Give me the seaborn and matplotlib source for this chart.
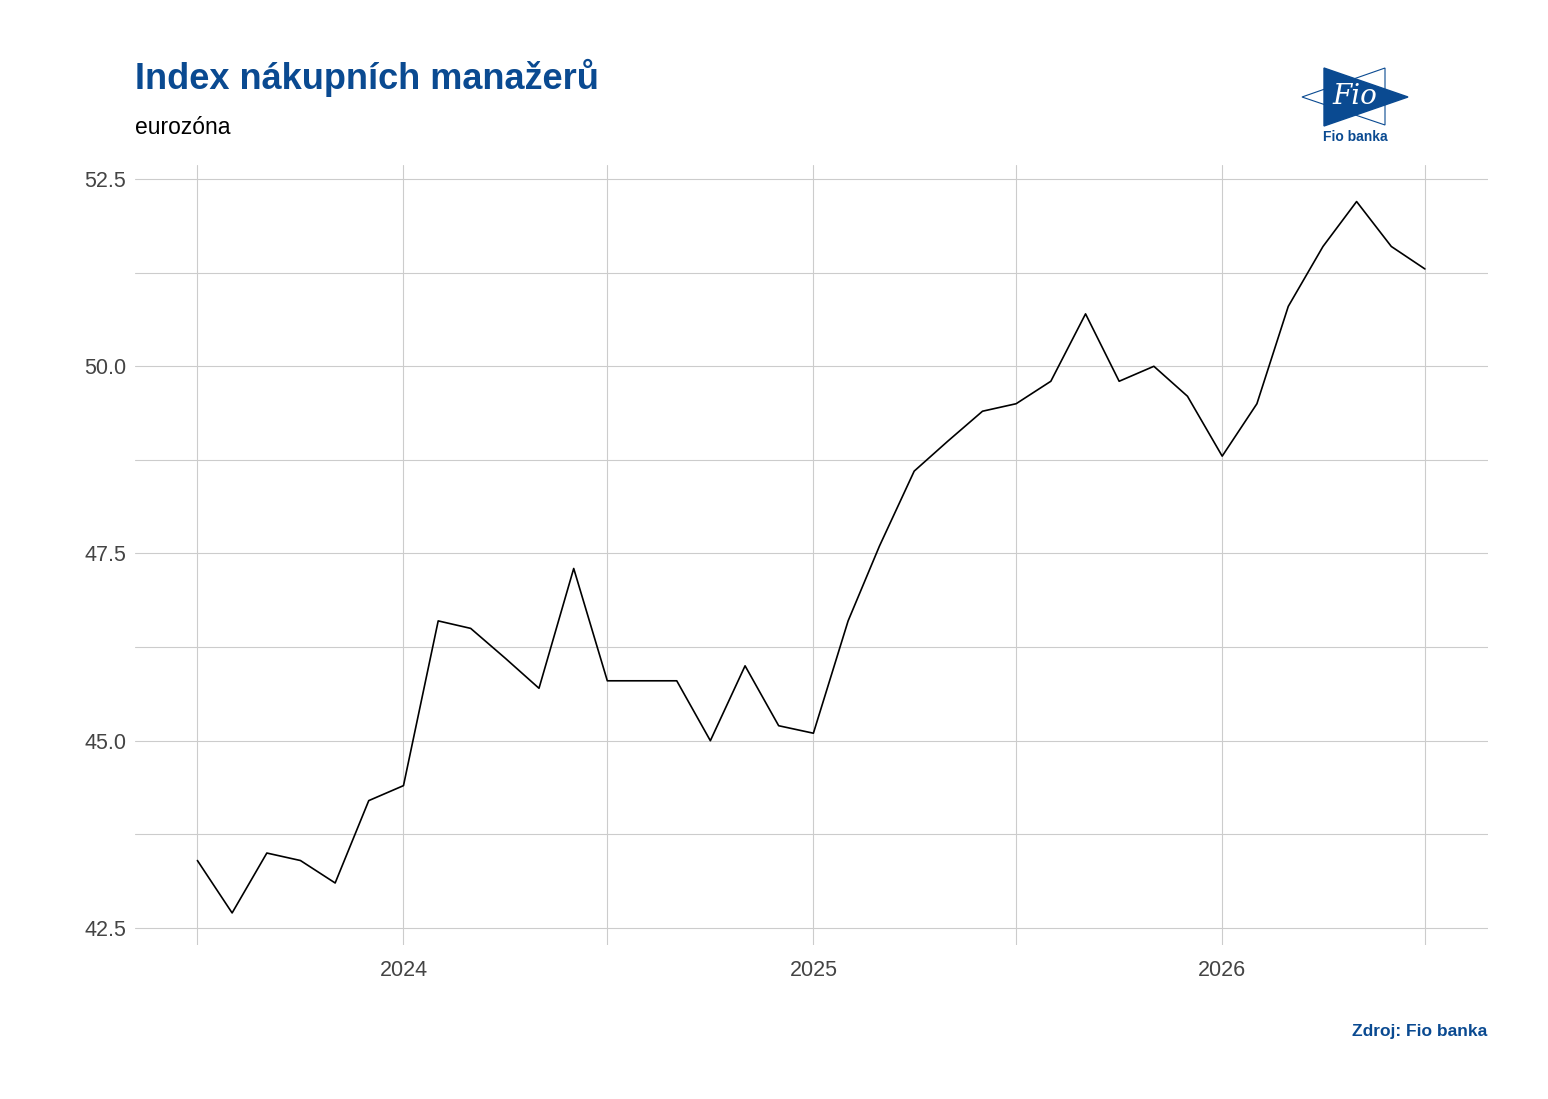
import matplotlib
matplotlib.use("Agg")
import matplotlib.pyplot as plt
import matplotlib.dates as mdates
from matplotlib.ticker import MultipleLocator
from matplotlib.patches import Polygon
import seaborn as sns
import pandas as pd
import datetime as dt

dates = pd.date_range("2023-07-01", "2026-07-01", freq="MS")
values = [43.4, 42.7, 43.5, 43.4, 43.1, 44.2, 44.4, 46.6, 46.5, 46.1, 45.7, 47.3,
          45.8, 45.8, 45.8, 45.0, 46.0, 45.2, 45.1, 46.6, 47.6, 48.6, 49.0, 49.4,
          49.5, 49.8, 50.7, 49.8, 50.0, 49.6, 48.8, 49.5, 50.8, 51.6, 52.2, 51.6, 51.3]
df = pd.DataFrame({"date": dates, "value": values})

sns.set_theme(style="white")
plt.rcParams['font.family'] = ['Liberation Sans', 'DejaVu Sans']
fig = plt.figure(figsize=(15.48, 10.99), dpi=100)
ax = fig.add_axes([0.087, 0.14, 0.874, 0.71])
sns.lineplot(data=df, x="date", y="value", color="black", linewidth=1.2, ax=ax)

ax.set_xlim(dt.date(2023, 5, 6), dt.date(2026, 8, 26))
ax.set_ylim(42.27, 52.69)
ax.yaxis.set_major_locator(MultipleLocator(2.5))
ax.yaxis.set_minor_locator(MultipleLocator(1.25))
ax.xaxis.set_major_locator(mdates.YearLocator())
ax.xaxis.set_minor_locator(mdates.MonthLocator(bymonth=7))
ax.xaxis.set_major_formatter(mdates.DateFormatter("%Y"))
ax.yaxis.set_major_formatter(matplotlib.ticker.FormatStrFormatter("%.1f"))
ax.grid(True, which="both", color="#cccccc", linewidth=0.8)
ax.tick_params(which="both", length=0, labelsize=15.5, colors="#444444")
ax.tick_params(axis="x", pad=11)
ax.tick_params(axis="y", pad=6)
ax.set_xlabel(""); ax.set_ylabel("")
for s in ax.spines.values():
    s.set_visible(False)

blue = "#0a4a91"
fig.text(0.087, 0.919, "Index nákupních manažerů", fontsize=26, fontweight="bold", color=blue)
fig.text(0.087, 0.878, "eurozóna", fontsize=16.5, color="black")
fig.text(0.961, 0.057, "Zdroj: Fio banka", fontsize=12.5, fontweight="bold", color=blue, ha="right")

# logo
def fx(px): return px / 1548
def fy(py): return 1 - py / 1099
fig.patches.append(Polygon([(fx(1302), fy(97)), (fx(1385), fy(68)), (fx(1385), fy(125))],
                           closed=True, facecolor="white", edgecolor=blue, linewidth=0.8, transform=fig.transFigure))
fig.patches.append(Polygon([(fx(1324), fy(68)), (fx(1408), fy(97)), (fx(1324), fy(126))],
                           closed=True, facecolor=blue, edgecolor=blue, transform=fig.transFigure))
fig.text(fx(1355), fy(97), "Fio", fontsize=20, color="white", family="DejaVu Serif",
         style="italic", ha="center", va="center")
fig.text(fx(1355), fy(137), "Fio banka", fontsize=10, fontweight="bold", color=blue, ha="center", va="center")

fig.savefig("out.png", dpi=100, facecolor="white")
